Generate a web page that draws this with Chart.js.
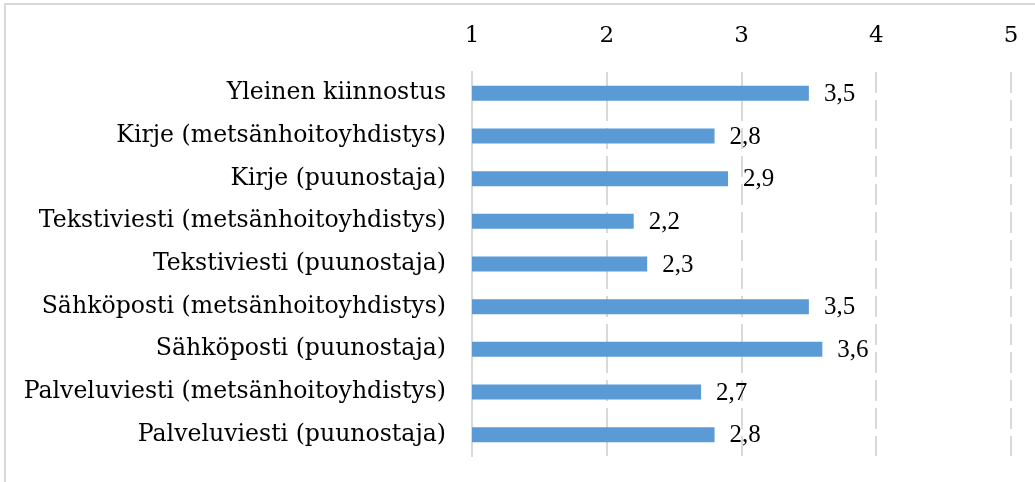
<!DOCTYPE html>
<html>
<head>
<meta charset="utf-8">
<script src="https://cdn.jsdelivr.net/npm/chart.js@4"></script>
<style>
  html, body { margin: 0; padding: 0; background: #ffffff; }
  canvas { display: block; }
</style>
</head>
<body>
<canvas id="contactChart" width="1035" height="482"></canvas>
<script>
const ctx = document.getElementById('contactChart');

//Prepare data
var channels = [
    'Yleinen kiinnostus',
    'Kirje (metsänhoitoyhdistys)',
    'Kirje (puunostaja)',
    'Tekstiviesti (metsänhoitoyhdistys)',
    'Tekstiviesti (puunostaja)',
    'Sähköposti (metsänhoitoyhdistys)',
    'Sähköposti (puunostaja)',
    'Palveluviesti (metsänhoitoyhdistys)',
    'Palveluviesti (puunostaja)'
];
var average = [3.5, 2.8, 2.9, 2.2, 2.3, 3.5, 3.6, 2.7, 2.8];
var tickLabels = ['1', '2', '3', '4', '5'];

//Frame line on the left and top, like the cropped chart box
const framePlugin = {
    id: 'frame',
    beforeDraw(chart) {
        const c = chart.ctx;
        c.save();
        c.strokeStyle = '#d9d9d9';
        c.lineWidth = 2;
        c.beginPath();
        c.moveTo(5, chart.height);
        c.lineTo(5, 4);
        c.lineTo(chart.width, 4);
        c.stroke();
        c.restore();
    }
};

//Value labels after each bar, with a decimal comma
const valueLabels = {
    id: 'valueLabels',
    afterDatasetsDraw(chart) {
        const c = chart.ctx;
        const meta = chart.getDatasetMeta(0);
        c.save();
        c.font = '25px "Liberation Serif"';
        c.fillStyle = '#000000';
        c.textAlign = 'left';
        c.textBaseline = 'middle';
        meta.data.forEach(function (bar, i) {
            const txt = average[i].toFixed(1).replace('.', ',');
            c.fillText(txt, bar.x + 15, bar.y + 1);
        });
        c.restore();
    }
};

//Create chart
new Chart(ctx, {
    type: 'bar',
    data: {
        labels: channels,
        datasets: [
            {
                label: 'Keskiarvo',
                data: average,
                backgroundColor: '#5b9bd5',
                borderWidth: 0,
                barPercentage: 1,
                categoryPercentage: 0.35
            }
        ]
    },
    options: {
        indexAxis: 'y',
        responsive: false,
        animation: false,
        layout: {
            padding: { left: 0, right: 24, top: 0, bottom: 26 }
        },
        plugins: {
            legend: { display: false },
            tooltip: { enabled: false }
        },
        scales: {
            x: {
                position: 'top',
                min: 1,
                max: 5,
                afterFit: function (scale) {
                    scale.height = 72;
                    scale.paddingLeft = 0;
                    scale.paddingRight = 0;
                },
                ticks: {
                    stepSize: 1,
                    padding: 22,
                    color: '#000000',
                    font: { family: '"DejaVu Serif"', size: 23 },
                    callback: function (value, index) { return tickLabels[index]; }
                },
                grid: {
                    drawTicks: false,
                    lineWidth: 2,
                    color: function (context) {
                        return context.tick && context.tick.value === 1 ? 'rgba(0,0,0,0)' : '#d9d9d9';
                    }
                },
                border: { display: false, dash: [21, 7] }
            },
            y: {
                afterFit: function (scale) {
                    scale.width = 472;
                    scale.paddingTop = 0;
                    scale.paddingBottom = 0;
                },
                ticks: {
                    padding: 26,
                    color: '#000000',
                    font: { family: '"DejaVu Serif"', size: 23.6 }
                },
                grid: { display: false, drawTicks: false },
                border: { display: true, color: '#d9d9d9', width: 2 }
            }
        }
    },
    plugins: [framePlugin, valueLabels]
});
</script>
</body>
</html>
